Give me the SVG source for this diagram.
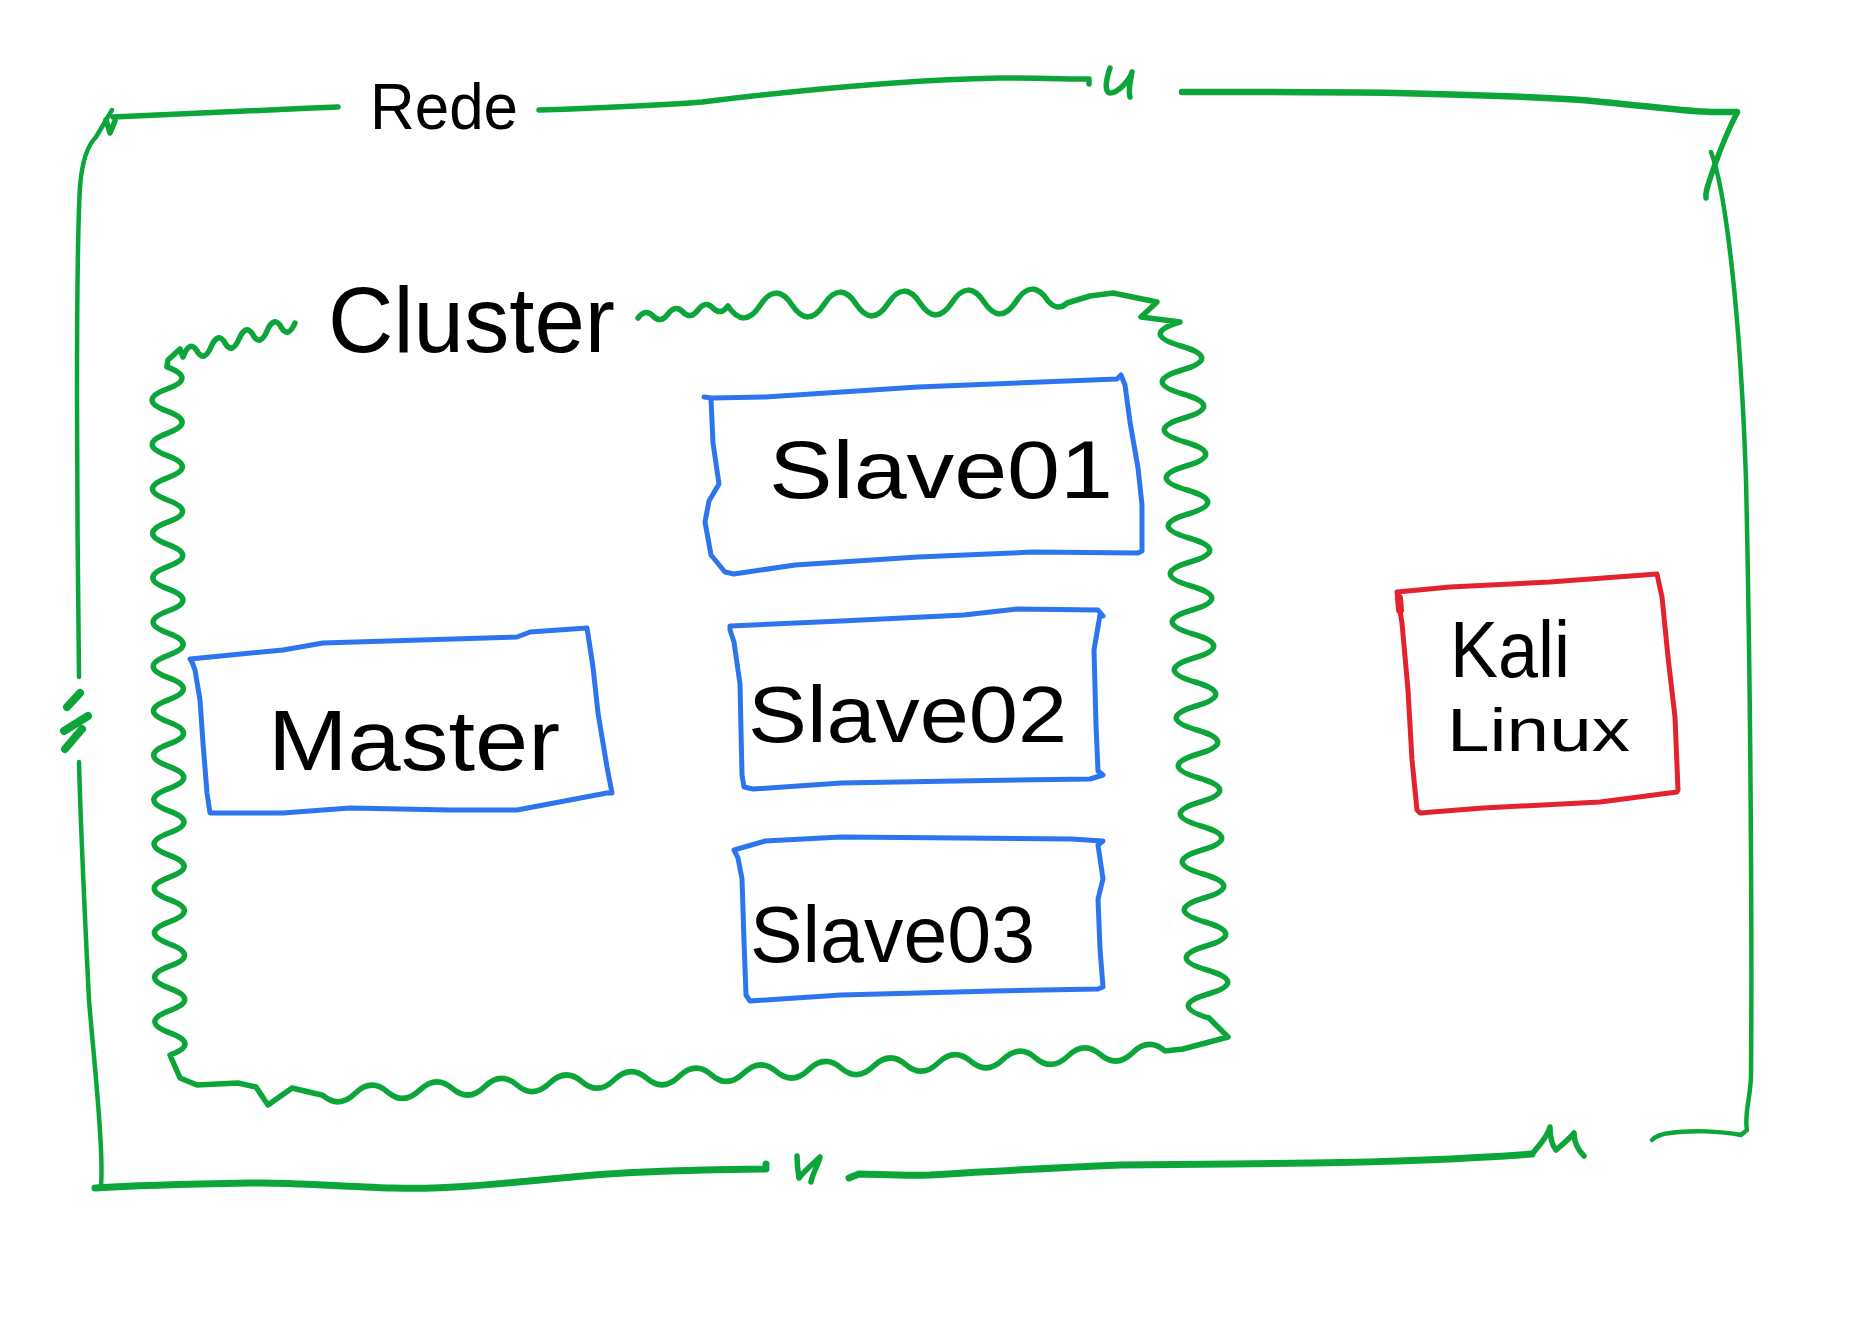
<svg xmlns="http://www.w3.org/2000/svg" width="1870" height="1322" viewBox="0 0 1870 1322">
<style>
.g{fill:none;stroke:#0ca53a;stroke-width:5.5;stroke-linecap:round;stroke-linejoin:round}
.gt{fill:none;stroke:#0ca53a;stroke-width:8;stroke-linecap:round}
.b{fill:none;stroke:#2d74ef;stroke-width:5;stroke-linecap:round;stroke-linejoin:round}
.r{fill:none;stroke:#e3222d;stroke-width:5;stroke-linecap:round;stroke-linejoin:round}
.t{font-family:"Liberation Sans","DejaVu Sans",sans-serif;fill:#000;}
</style>
<rect width="1870" height="1322" fill="#fff"/>
<g id="rede">
<path class="g" d="M 113 117 C 180 114 260 110 338 107"/>
<path class="g" d="M 539 110 C 600 108 650 106 702 102 C 800 90 900 80 1000 78 C 1040 78 1070 79 1089 79 L 1089 84"/>
<path class="g" d="M 1110 68 C 1106 80 1104 92 1110 93 C 1118 93 1130 80 1132 72 C 1130 82 1128 90 1130 97"/>
<path class="g" style="stroke-width:6.5" d="M 1182 92 C 1250 92 1330 92 1395 93 C 1480 95 1540 97 1581 100 C 1640 105 1690 112 1711 112 L 1737 112"/>
<path class="g" d="M 1737 113 C 1728 130 1720 150 1713 170 C 1708 185 1705 192 1706 198"/>
<path class="g" style="stroke-width:4.5" d="M 1711 152 C 1724 185 1740 300 1746 480 C 1751 700 1752 950 1751 1077 C 1750 1100 1744 1115 1747 1130 L 1741 1135 C 1720 1131 1690 1130 1670 1133 C 1660 1134 1655 1137 1652 1140"/>
<path class="g" d="M 1532 1154 C 1540 1145 1548 1135 1550 1127 C 1550 1135 1552 1145 1556 1150 C 1562 1145 1570 1138 1574 1133 C 1574 1142 1578 1150 1584 1156"/>
<path class="g" style="stroke-width:7" d="M 1532 1154 C 1450 1160 1380 1162 1312 1163 C 1250 1164 1180 1164 1121 1165 C 1050 1168 980 1172 930 1175 C 900 1176 875 1174 859 1174 L 849 1178"/>
<path class="g" d="M 797 1156 C 797 1165 798 1172 799 1178 C 805 1170 815 1162 820 1157 C 818 1165 812 1175 811 1182"/>
<path class="g" style="stroke-width:7" d="M 766 1164 L 766 1169 C 680 1170 620 1172 572 1177 C 500 1184 440 1190 394 1188 C 330 1186 290 1182 250 1183 C 190 1184 140 1185 95 1188"/>
<path class="g" style="stroke-width:4.5" d="M 101 1186 C 104 1150 93 1050 89 1000 C 84 900 80 800 79 762"/>
<path class="gt" d="M 80 693 L 67 707"/>
<path class="gt" d="M 88 716 L 64 731"/>
<path class="gt" d="M 82 729 L 65 749"/>
<path class="g" style="stroke-width:4.5" d="M 79 677 C 78 600 77 480 77 400 C 77 300 78 220 80 187 C 82 160 88 145 96 137 L 112 110"/>
<path class="g" d="M 106 120 L 110 133 L 115 121"/>
<text class="t" x="370" y="129" font-size="64" textLength="148" lengthAdjust="spacingAndGlyphs">Rede</text>
</g>
<g id="cluster">
<path class="g" d="M 638 318 q 7.5 -10 15 -2 t 15 -2 t 15 -2 t 15 -2 t 15 -2 t 15 -2 q 16 24 32 -0.5 t 32 -0.5 t 32 -0.5 t 32 -0.5 t 32 -0.5 t 32 -0.5 t 32 -0.5 t 32 -0.5 t 32 -0.5 t 32 -0.5 Q 1058 312 1067 303 L 1090 296 L 1113 293 L 1157 302 L 1141 317 L 1180 322 q -40 12 1 24 t 1 24 t 1 24 t 1 24 t 1 24 t 1 24 t 1 24 t 1 24 t 1 24 t 1 24 t 1 24 t 1 24 t 1 24 t 1 24 t 1 24 t 1 24 t 1 24 t 1 24 t 1 24 t 1 24 t 1 24 t 1 24 t 1 24 t 1 24 t 1 24 t 1 24 t 1 24 t 1 24 t 1 24 L 1228 1037 L 1183 1049 L 1165 1051 q -16.2 -14 -32.4 1.7 t -32.4 1.7 t -32.4 1.7 t -32.4 1.7 t -32.4 1.7 t -32.4 1.7 t -32.4 1.7 t -32.4 1.7 t -32.4 1.7 t -32.4 1.7 t -32.4 1.7 t -32.4 1.7 t -32.4 1.7 t -32.4 1.7 t -32.4 1.7 t -32.4 1.7 t -32.4 1.7 t -32.4 1.7 t -32.4 1.7 t -32.4 1.7 t -32.4 1.7 t -32.4 1.7 t -32.4 1.7 t -32.4 1.7 t -32.4 1.7 t -32.4 1.7 L 292 1088 L 268 1105 L 256 1087 L 238 1083 L 197 1085 L 180 1078 L 170 1055 q 30 -11 -0.1 -22.2 t -0.1 -22.2 t -0.1 -22.2 t -0.1 -22.2 t -0.1 -22.2 t -0.1 -22.2 t -0.1 -22.2 t -0.1 -22.2 t -0.1 -22.2 t -0.1 -22.2 t -0.1 -22.2 t -0.1 -22.2 t -0.1 -22.2 t -0.1 -22.2 t -0.1 -22.2 t -0.1 -22.2 t -0.1 -22.2 t -0.1 -22.2 t -0.1 -22.2 t -0.1 -22.2 t -0.1 -22.2 t -0.1 -22.2 t -0.1 -22.2 t -0.1 -22.2 t -0.1 -22.2 t -0.1 -22.2 t -0.1 -22.2 t -0.1 -22.2 t -0.1 -22.2 t -0.1 -22.2 t -0.1 -22.2 L 168 360 L 180 349 L 183 357 q 7 -18 14 -6 t 14 -4 t 14 -4 t 14 -4 t 14 -4 t 14 -4 t 14 -4 t 14 -4"/>
<text class="t" x="328" y="352" font-size="92" textLength="287" lengthAdjust="spacingAndGlyphs">Cluster</text>
</g>
<g id="master">
<path class="b" d="M 192 662 L 190 659 L 283 650 L 323 643 L 517 637 L 530 632 L 587 628 L 593 667 L 598 713 L 607 767 L 612 793 L 607 793 L 517 810 L 450 810 L 350 808 L 283 813 L 210 813 L 207 793 L 203 743 L 200 700 L 195 670 Z"/>
<text class="t" x="268" y="770" font-size="86" textLength="292" lengthAdjust="spacingAndGlyphs">Master</text>
</g>
<g id="slave01">
<path class="b" d="M 704 397 L 711 398 L 765 397 L 918 387 L 1117 379 L 1121 375 L 1125 385 L 1130 422 L 1138 468 L 1142 505 L 1142 551 L 1138 553 L 1033 552 L 918 557 L 795 565 L 734 574 L 725 572 L 711 555 L 705 522 L 709 501 L 719 484 L 713 443 L 711 399"/>
<text class="t" x="769" y="498" font-size="82" textLength="344" lengthAdjust="spacingAndGlyphs">Slave01</text>
</g>
<g id="slave02">
<path class="b" d="M 730 630 L 730 626 L 841 621 L 964 615 L 1017 609 L 1098 610 L 1103 616 L 1100 615 L 1094 650 L 1096 725 L 1098 771 L 1103 775 L 1090 779 L 956 781 L 841 783 L 753 789 L 744 787 L 742 775 L 740 684 L 734 642 Z"/>
<text class="t" x="748" y="742" font-size="80" textLength="319" lengthAdjust="spacingAndGlyphs">Slave02</text>
</g>
<g id="slave03">
<path class="b" d="M 734 850 L 765 841 L 841 837 L 1071 839 L 1103 841 L 1098 845 L 1103 879 L 1098 899 L 1100 949 L 1103 987 L 1098 989 L 994 991 L 841 995 L 750 1001 L 746 995 L 744 941 L 742 879 L 738 858 Z"/>
<text class="t" x="750" y="962" font-size="80" textLength="285" lengthAdjust="spacingAndGlyphs">Slave03</text>
</g>
<g id="kali">
<path class="r" d="M 1397 592 L 1450 587 L 1550 582 L 1657 574 L 1662 597 L 1668 657 L 1675 717 L 1678 790 L 1677 792 L 1600 802 L 1483 808 L 1420 813 L 1417 810 L 1412 760 L 1408 690 L 1402 623 Z"/>
<path class="r" style="stroke-width:8" d="M 1399 598 L 1400 610"/>
<text class="t" x="1450" y="677" font-size="80" textLength="120" lengthAdjust="spacingAndGlyphs">Kali</text>
<text class="t" x="1447" y="751" font-size="62" textLength="183" lengthAdjust="spacingAndGlyphs">Linux</text>
</g>
<g id="connectors"/>
</svg>
